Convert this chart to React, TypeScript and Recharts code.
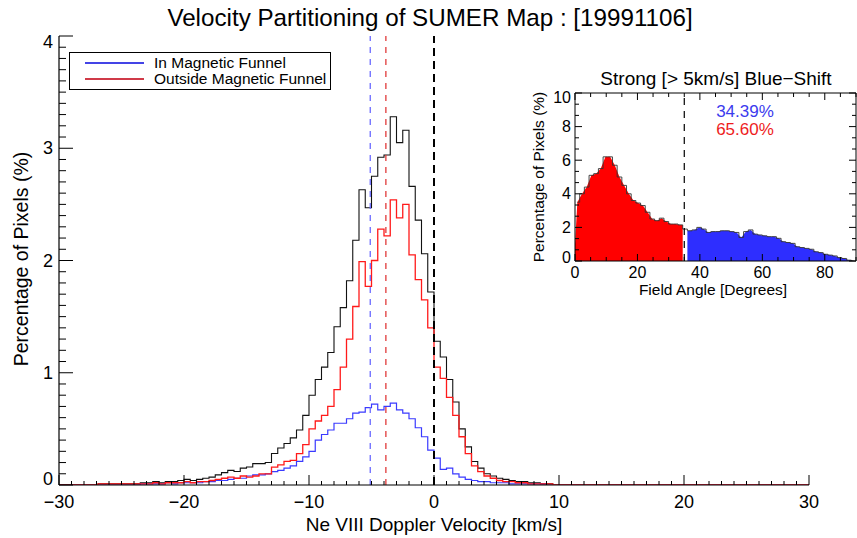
import React from "react";
import { ComposedChart, Line, Area, XAxis, YAxis, ReferenceLine } from "recharts";

const FONT = "'Liberation Sans', Arial, Helvetica, sans-serif";

// main histogram, 0.5 km/s bins, first bin centre at -23.75
const VEL_START = -23.75;
const VEL_STEP = 0.5;
const IN_FUNNEL = [
  0.0, 0.01, 0.01, 0.01, 0.01, 0.02, 0.01, 0.02, 0.02, 0.02, 0.02, 0.03, 0.03, 0.04, 0.04, 0.05, 0.06,
  0.06, 0.08, 0.09, 0.09, 0.1, 0.12, 0.13, 0.15, 0.17, 0.21, 0.25, 0.3, 0.4, 0.45, 0.49, 0.55, 0.55,
  0.59, 0.64, 0.65, 0.69, 0.72, 0.67, 0.7, 0.73, 0.67, 0.64, 0.59, 0.51, 0.43, 0.31, 0.24, 0.14, 0.15,
  0.1, 0.07, 0.05, 0.04, 0.03, 0.03, 0.02, 0.02, 0.02, 0.01, 0.01, 0.01, 0.01, 0.01, 0.01, 0.0, 0.0,
];
const OUTSIDE_FUNNEL = [
  0.01, 0.01, 0.01, 0.02, 0.01, 0.02, 0.02, 0.02, 0.03, 0.02, 0.03, 0.03, 0.04, 0.05, 0.06, 0.07, 0.06,
  0.08, 0.07, 0.08, 0.1, 0.1, 0.16, 0.18, 0.21, 0.22, 0.28, 0.36, 0.5, 0.57, 0.62, 0.7, 0.85, 1.05,
  1.3, 1.59, 1.99, 1.77, 2.0, 2.28, 2.22, 2.54, 2.38, 2.5, 2.05, 1.83, 1.65, 1.4, 1.05, 0.95, 0.78,
  0.62, 0.43, 0.28, 0.17, 0.12, 0.08, 0.06, 0.04, 0.03, 0.03, 0.02, 0.02, 0.01, 0.01, 0.01, 0.01, 0.0,
];
const ALL_PIXELS = [
  0.01, 0.02, 0.02, 0.03, 0.02, 0.03, 0.03, 0.04, 0.05, 0.04, 0.05, 0.06, 0.07, 0.09, 0.11, 0.13, 0.12,
  0.15, 0.16, 0.19, 0.19, 0.2, 0.28, 0.33, 0.37, 0.42, 0.49, 0.62, 0.8, 0.94, 1.05, 1.18, 1.41, 1.58,
  1.82, 2.18, 2.63, 2.47, 2.75, 2.92, 2.94, 3.28, 3.05, 3.16, 2.66, 2.36, 2.06, 1.72, 1.28, 1.14, 0.94,
  0.74, 0.5, 0.34, 0.21, 0.15, 0.1, 0.08, 0.06, 0.05, 0.04, 0.03, 0.03, 0.02, 0.02, 0.01, 0.01, 0.0,
];

const MEAN_IN = -5.1;
const MEAN_OUT = -3.85;
const ZERO_VEL = 0;

const MAIN_X_MAJOR = [-30, -20, -10, 0, 10, 20, 30];
const MAIN_Y_MAJOR = [0, 1, 2, 3, 4];

// inset: field angle histogram, 1.5 degree bins
const ANGLE_STEP = 1.5;
const ANGLE_PCT = [
  3.5, 4.0, 4.4, 5.1, 5.2, 5.5, 6.2, 6.2, 5.7, 5.0, 4.5, 4.0, 3.6, 3.45, 3.3, 2.9, 2.5, 2.4, 2.55, 2.35,
  2.2, 2.2, 2.15, 1.9, 1.8, 1.85, 2.0, 1.9, 1.7, 1.75, 1.75, 1.8, 1.8, 1.75, 1.7, 1.4, 1.75, 1.85, 1.6,
  1.55, 1.5, 1.45, 1.45, 1.35, 1.15, 1.1, 1.05, 0.85, 0.8, 0.75, 0.7, 0.55, 0.5, 0.4, 0.35, 0.3, 0.2,
  0.15, 0.05, 0.0,
];
const ANGLE_SPLIT = 35;
const FILL_START = 1.0; // filled polygon starts low at 0 deg
const INSET_X_MAJOR = [0, 20, 40, 60, 80];
const INSET_Y_MAJOR = [0, 2, 4, 6, 8, 10];
const PCT_IN = "34.39%";
const PCT_OUT = "65.60%";

const mainRows = [
  { v: -30, blue: 0, red: 0, total: 0 },
  ...IN_FUNNEL.map((b, i) => ({
    v: VEL_START + i * VEL_STEP,
    blue: b,
    red: OUTSIDE_FUNNEL[i],
    total: ALL_PIXELS[i],
  })),
  { v: 30, blue: 0, red: 0, total: 0 },
];

const insetRows: any[] = [{ a: 0, red: FILL_START }];
ANGLE_PCT.forEach((p, i) => {
  const a = i * ANGLE_STEP + ANGLE_STEP / 2;
  const lo = i * ANGLE_STEP;
  const hi = lo + ANGLE_STEP;
  const row: any = { a, total: p };
  if (hi <= ANGLE_SPLIT) row.red = p;
  if (lo >= ANGLE_SPLIT) row.blue = p;
  if (hi <= ANGLE_SPLIT && hi + ANGLE_STEP > ANGLE_SPLIT) {
    insetRows.push(row);
    insetRows.push({ a: hi, red: p });
    return;
  }
  if (lo >= ANGLE_SPLIT && lo - ANGLE_STEP < ANGLE_SPLIT) {
    insetRows.push({ a: lo, blue: p });
  }
  insetRows.push(row);
});

const mainXTicks = Array.from({ length: 61 }, (_, i) => i - 30);
const mainYTicks = Array.from({ length: 41 }, (_, i) => i / 10);
const insetXTicks = Array.from({ length: 19 }, (_, i) => i * 5);
const insetYTicks = Array.from({ length: 16 }, (_, i) => (i * 2) / 3);

const isOn = (v: number, list: number[]) => list.some((m) => Math.abs(m - v) < 1e-6);
const fmt = (v: number) => (v < 0 ? `\u2212${Math.abs(v)}` : `${v}`);

function MainXTick({ x, y, payload }: any) {
  const v = payload.value;
  const major = isOn(v, MAIN_X_MAJOR);
  return (
    <g>
      <line x1={x} x2={x} y1={y} y2={y - (major ? 10 : 4)} stroke="#000" strokeWidth={1} />
      {major && (
        <text x={x} y={y + 17} textAnchor="middle" dominantBaseline="central" fontSize={18} fontFamily={FONT} fill="#000">
          {fmt(v)}
        </text>
      )}
    </g>
  );
}

function MainYTick({ x, y, payload }: any) {
  const v = payload.value;
  const major = isOn(v, MAIN_Y_MAJOR);
  const dy = v === 0 ? -6 : Math.abs(v - 4) < 1e-6 ? 6 : 0;
  return (
    <g>
      <line x1={x} x2={x + (major ? 14 : 7)} y1={y} y2={y} stroke="#000" strokeWidth={1} />
      {major && (
        <text x={x - 6} y={y + dy} textAnchor="end" dominantBaseline="central" fontSize={18} fontFamily={FONT} fill="#000">
          {Math.round(v)}
        </text>
      )}
    </g>
  );
}

function InsetXTick({ x, y, payload, top }: any) {
  const v = payload.value;
  const major = isOn(v, INSET_X_MAJOR);
  const len = major ? 7 : 4;
  return (
    <g>
      <line x1={x} x2={x} y1={y} y2={top ? y + len : y - len} stroke="#000" strokeWidth={1} />
      {major && !top && (
        <text x={x} y={y + 11} textAnchor="middle" dominantBaseline="central" fontSize={16} fontFamily={FONT} fill="#000">
          {v}
        </text>
      )}
    </g>
  );
}

function InsetYTick({ x, y, payload, right }: any) {
  const v = payload.value;
  const major = isOn(v, INSET_Y_MAJOR);
  const len = major ? 7 : 4;
  const dy = v === 0 ? -4 : Math.abs(v - 10) < 1e-6 ? 4 : 0;
  return (
    <g>
      <line x1={x} x2={right ? x - len : x + len} y1={y} y2={y} stroke="#000" strokeWidth={1} />
      {major && !right && (
        <text x={x - 4} y={y + dy} textAnchor="end" dominantBaseline="central" fontSize={16} fontFamily={FONT} fill="#000">
          {Math.round(v)}
        </text>
      )}
    </g>
  );
}

const label = (x: number, y: number, size: number, color = "#000", rotate = false): React.CSSProperties => ({
  position: "absolute",
  left: x,
  top: y,
  transform: `translate(-50%, -50%)${rotate ? " rotate(-90deg)" : ""}`,
  fontSize: size,
  lineHeight: 1,
  color,
  whiteSpace: "nowrap",
  fontFamily: FONT,
});

const axisCommon = {
  type: "number" as const,
  interval: 0 as const,
  tickSize: 0,
  tickMargin: 0,
  tickLine: false,
  allowDataOverflow: true,
};

export default function App() {
  return (
    <div style={{ position: "absolute", left: 0, top: 0, width: 857, height: 538, background: "#fff", fontFamily: FONT }}>
      <ComposedChart width={857} height={538} data={mainRows} margin={{ top: 36, right: 48, bottom: 52, left: 58 }}>
        <XAxis
          {...axisCommon}
          dataKey="v"
          domain={[-30, 30]}
          ticks={mainXTicks}
          height={1}
          axisLine={{ stroke: "#000", strokeWidth: 1.2 }}
          tick={(p: any) => <MainXTick {...p} />}
        />
        <YAxis
          {...axisCommon}
          domain={[0, 4]}
          ticks={mainYTicks}
          width={1}
          axisLine={{ stroke: "#000", strokeWidth: 1.2 }}
          tick={(p: any) => <MainYTick {...p} />}
        />
        <Line type="step" dataKey="total" stroke="#111" strokeWidth={1.1} dot={false} isAnimationActive={false} />
        <Line type="step" dataKey="blue" stroke="#3a3aff" strokeWidth={1.2} dot={false} isAnimationActive={false} />
        <Line type="step" dataKey="red" stroke="#ff1a1a" strokeWidth={1.3} dot={false} isAnimationActive={false} />
        <ReferenceLine x={MEAN_IN} stroke="#6a6aff" strokeWidth={1.3} strokeDasharray="6 6" />
        <ReferenceLine x={MEAN_OUT} stroke="#e03a3a" strokeWidth={1.3} strokeDasharray="6 6" />
        <ReferenceLine x={ZERO_VEL} stroke="#000" strokeWidth={2} strokeDasharray="8 5" />
      </ComposedChart>

      <div style={label(430, 17.5, 24.2)}>Velocity Partitioning of SUMER Map : [19991106]</div>
      <div style={label(434, 523.5, 19)}>Ne VIII Doppler Velocity [km/s]</div>
      <div style={label(22, 259, 19.5, "#000", true)}>Percentage of Pixels (%)</div>

      <div
        style={{
          position: "absolute",
          left: 69,
          top: 52,
          width: 260,
          height: 36,
          border: "1.3px solid #000",
          background: "#fff",
        }}
      >
        <div style={{ position: "absolute", left: 15, top: 9, width: 59, height: 2, background: "#4444e6" }} />
        <div style={{ position: "absolute", left: 15, top: 24.5, width: 59, height: 2, background: "#d03a48" }} />
        <div style={{ position: "absolute", left: 84, top: 10.3, transform: "translateY(-50%)", fontSize: 15.5, lineHeight: 1 }}>
          In Magnetic Funnel
        </div>
        <div style={{ position: "absolute", left: 84, top: 25.8, transform: "translateY(-50%)", fontSize: 15.5, lineHeight: 1 }}>
          Outside Magnetic Funnel
        </div>
      </div>

      <div style={{ position: "absolute", left: 500, top: 50, width: 357, height: 270 }}>
        <ComposedChart width={357} height={270} data={insetRows} margin={{ top: 42, right: 0, bottom: 58, left: 74 }}>
          <XAxis
            {...axisCommon}
            dataKey="a"
            domain={[0, 90]}
            ticks={insetXTicks}
            height={1}
            axisLine={{ stroke: "#000", strokeWidth: 1 }}
            tick={(p: any) => <InsetXTick {...p} />}
          />
          <XAxis
            {...axisCommon}
            xAxisId="top"
            orientation="top"
            dataKey="a"
            domain={[0, 90]}
            ticks={insetXTicks}
            height={1}
            axisLine={{ stroke: "#000", strokeWidth: 1 }}
            tick={(p: any) => <InsetXTick {...p} top />}
          />
          <YAxis
            {...axisCommon}
            domain={[0, 10]}
            ticks={insetYTicks}
            width={1}
            axisLine={{ stroke: "#000", strokeWidth: 1 }}
            tick={(p: any) => <InsetYTick {...p} />}
          />
          <YAxis
            {...axisCommon}
            yAxisId="right"
            orientation="right"
            domain={[0, 10]}
            ticks={insetYTicks}
            width={1}
            axisLine={{ stroke: "#000", strokeWidth: 1 }}
            tick={(p: any) => <InsetYTick {...p} right />}
          />
          <Area type="linear" dataKey="red" stroke="none" fill="#ff0000" fillOpacity={1} dot={false} isAnimationActive={false} />
          <Area type="linear" dataKey="blue" stroke="none" fill="#2e2eff" fillOpacity={1} dot={false} isAnimationActive={false} />
          <Line type="step" dataKey="total" stroke="#333" strokeWidth={0.9} dot={false} connectNulls isAnimationActive={false} />
          <ReferenceLine x={ANGLE_SPLIT} stroke="#000" strokeWidth={1.2} strokeDasharray="7 6" />
        </ComposedChart>
        <div style={label(216, 28, 19)}>Strong [&gt; 5km/s] Blue&minus;Shift</div>
        <div style={label(245, 61, 17, "#3b3bee")}>{PCT_IN}</div>
        <div style={label(245, 79, 17, "#ee1c1c")}>{PCT_OUT}</div>
        <div style={label(213, 240, 15.5)}>Field Angle [Degrees]</div>
        <div style={label(39, 127, 15.5, "#000", true)}>Percentage of Pixels (%)</div>
      </div>
    </div>
  );
}
